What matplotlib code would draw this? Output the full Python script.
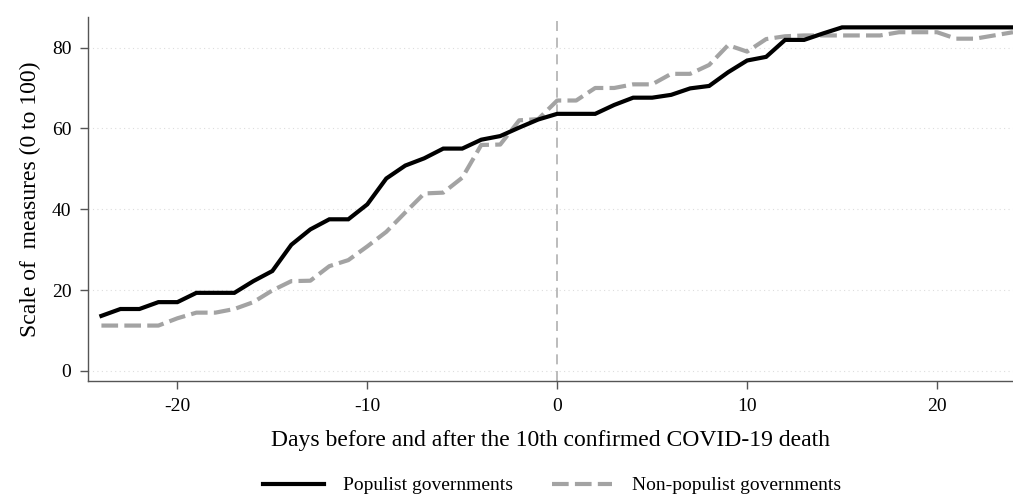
#!/usr/bin/env python3

import matplotlib
matplotlib.use('Agg')
import matplotlib.pyplot as plt

plt.rcParams['font.family'] = ['Liberation Serif', 'DejaVu Serif']

days = list(range(-24, 25))

populist = [13.6, 15.3, 15.3, 17.0, 17.0, 19.3, 19.3, 19.3, 22.2, 24.7,
            31.2, 35.0, 37.5, 37.5, 41.2, 47.6, 50.8, 52.6, 55.0, 55.0,
            57.2, 58.1, 60.2, 62.2, 63.6, 63.6, 63.6, 65.8, 67.6, 67.6,
            68.3, 69.9, 70.5, 73.9, 76.8, 77.7, 81.9, 81.9, 83.5, 85.0,
            85.0, 85.0, 85.0, 85.0, 85.0, 85.0, 85.0, 85.0, 85.0]

non_populist = [11.2, 11.2, 11.2, 11.2, 13.0, 14.4, 14.4, 15.3, 17.0, 19.9,
                22.2, 22.3, 25.9, 27.4, 30.8, 34.4, 39.2, 43.9, 44.1, 47.8,
                55.9, 56.0, 62.0, 62.3, 66.9, 66.9, 70.0, 70.0, 70.9, 70.9,
                73.5, 73.5, 75.7, 80.6, 79.0, 82.1, 82.8, 83.0, 83.0, 83.0,
                83.0, 83.0, 83.8, 83.8, 83.8, 82.2, 82.2, 83.0, 83.8]

yticks = [0, 20, 40, 60, 80]
xticks = [-20, -10, 0, 10, 20]

fig = plt.figure(figsize=(10.13, 4.96), dpi=100)
ax = fig.add_axes([0.087, 0.232, 0.913, 0.734])

for t in yticks:
    ax.axhline(t, color='#dddddd', lw=0.8, ls=(0, (1, 3)), zorder=0)
ax.axvline(0, color='#b0b0b0', lw=1.2, ls=(0, (6, 4)), zorder=1)

ax.plot(days, populist, color='black', lw=3.0, solid_joinstyle='miter',
        label='Populist governments', zorder=3)
ax.plot(days, non_populist, color='#a3a3a3', lw=3.0, ls=(0, (4, 1.5)),
        label='Non-populist governments', zorder=2)

ax.set_xlim(-24.7, 24)
ax.set_ylim(-2.5, 87.6)
ax.set_xticks(xticks)
ax.set_xticklabels(['-20', '-10', '0', '10', '20'])
ax.set_yticks(yticks)

for s in ['top', 'right']:
    ax.spines[s].set_visible(False)
for s in ['left', 'bottom']:
    ax.spines[s].set_color('#555555')
    ax.spines[s].set_linewidth(1.0)
ax.tick_params(axis='both', length=6, width=1.0, color='#555555',
               labelsize=14, pad=6)

ax.set_xlabel('Days before and after the 10th confirmed COVID-19 death',
              fontsize=17, labelpad=11)
ax.set_ylabel('Scale of  measures (0 to 100)', fontsize=17, labelpad=8)

fig.legend(loc='lower center', bbox_to_anchor=(0.545, -0.032), ncol=2,
           frameon=False, fontsize=14, handlelength=3.1, handletextpad=1.0,
           columnspacing=2.0)

fig.savefig('out.png', dpi=100)
